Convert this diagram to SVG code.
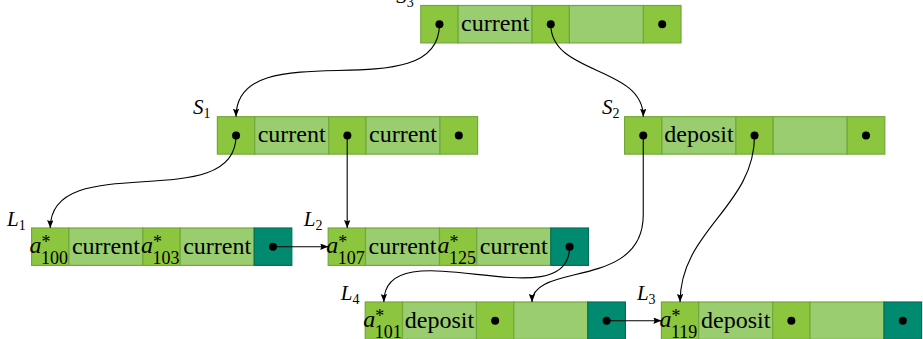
<svg xmlns="http://www.w3.org/2000/svg" width="923" height="339" viewBox="0 0 923 339">
<style>
  .dk{fill:#8cc63f;stroke:#72a83a;stroke-width:1.2}
  .lt{fill:#99cd6f;stroke:#72a83a;stroke-width:1.2}
  .tl{fill:#008a70;stroke:#00705b;stroke-width:1.2}
  .dot{fill:#000}
  text{font-family:'Liberation Serif','DejaVu Serif',serif;fill:#000}
  .t{font-size:24px;text-anchor:middle}
  .a{font-size:24px;font-style:italic}
  .sm{font-size:18px}
  .lb{font-size:21px;font-style:italic}
  .lbs{font-size:14px;font-style:normal}
  .c{fill:none;stroke:#000;stroke-width:1.1}
</style>
<defs>
  <marker id="arr" viewBox="0 0 10 8" refX="10" refY="4" markerWidth="8" markerHeight="6.4" markerUnits="userSpaceOnUse" orient="auto">
    <path d="M0,0 L10,4 L0,8 L1.5,4 z" fill="#000"/>
  </marker>
</defs>
<rect width="923" height="339" fill="#fff"/>

<g id="S3" transform="translate(420.8,5.5)">
  <rect class="dk" x="0" y="0" width="37.3" height="37.4"/>
  <rect class="lt" x="37.3" y="0" width="74" height="37.4"/>
  <rect class="dk" x="111.3" y="0" width="37.3" height="37.4"/>
  <rect class="lt" x="148.6" y="0" width="74" height="37.4"/>
  <rect class="dk" x="222.6" y="0" width="37.6" height="37.4"/>
  <circle class="dot" cx="18.65" cy="18.7" r="4"/>
  <text class="t" x="74.3" y="25.5">current</text>
  <circle class="dot" cx="129.95" cy="18.7" r="4"/>
  <circle class="dot" cx="241.4" cy="18.7" r="4"/>
  <text class="lb" x="-24.5" y="-2.5">S<tspan class="lbs" dy="4">3</tspan></text>
</g>

<g id="S1" transform="translate(217.4,116.7)">
  <rect class="dk" x="0" y="0" width="37.3" height="37.4"/>
  <rect class="lt" x="37.3" y="0" width="74" height="37.4"/>
  <rect class="dk" x="111.3" y="0" width="37.3" height="37.4"/>
  <rect class="lt" x="148.6" y="0" width="74" height="37.4"/>
  <rect class="dk" x="222.6" y="0" width="37.6" height="37.4"/>
  <circle class="dot" cx="18.65" cy="18.7" r="4"/>
  <text class="t" x="74.3" y="25.5">current</text>
  <circle class="dot" cx="129.95" cy="18.7" r="4"/>
  <text class="t" x="185.6" y="25.5">current</text>
  <circle class="dot" cx="241.4" cy="18.7" r="4"/>
  <text class="lb" x="-24.5" y="-2.5">S<tspan class="lbs" dy="4">1</tspan></text>
</g>

<g id="S2" transform="translate(624.6,116.7)">
  <rect class="dk" x="0" y="0" width="37.3" height="37.4"/>
  <rect class="lt" x="37.3" y="0" width="74" height="37.4"/>
  <rect class="dk" x="111.3" y="0" width="37.3" height="37.4"/>
  <rect class="lt" x="148.6" y="0" width="74" height="37.4"/>
  <rect class="dk" x="222.6" y="0" width="37.6" height="37.4"/>
  <circle class="dot" cx="18.65" cy="18.7" r="4"/>
  <text class="t" x="74.3" y="25.5">deposit</text>
  <circle class="dot" cx="129.95" cy="18.7" r="4"/>
  <circle class="dot" cx="241.4" cy="18.7" r="4"/>
  <text class="lb" x="-22.5" y="-2.5">S<tspan class="lbs" dy="4">2</tspan></text>
</g>

<g id="L1" transform="translate(31.6,228)">
  <rect class="dk" x="0" y="0" width="37.3" height="37.4"/>
  <rect class="lt" x="37.3" y="0" width="74" height="37.4"/>
  <rect class="dk" x="111.3" y="0" width="37.3" height="37.4"/>
  <rect class="lt" x="148.6" y="0" width="74" height="37.4"/>
  <rect class="tl" x="222.6" y="0" width="37.6" height="37.4"/>
  <text class="a" x="-2" y="24.5">a</text><text class="sm" x="10" y="19.5">*</text><text class="sm" x="9.5" y="35.5">100</text>
  <text class="t" x="74.3" y="25.5">current</text>
  <text class="a" x="109.3" y="24.5">a</text><text class="sm" x="121.3" y="19.5">*</text><text class="sm" x="120.8" y="35.5">103</text>
  <text class="t" x="185.6" y="25.5">current</text>
  <circle class="dot" cx="241.4" cy="18.7" r="4"/>
  <text class="lb" x="-24.5" y="-2.5">L<tspan class="lbs" dy="4">1</tspan></text>
</g>

<g id="L2" transform="translate(328.2,228)">
  <rect class="dk" x="0" y="0" width="37.3" height="37.4"/>
  <rect class="lt" x="37.3" y="0" width="74" height="37.4"/>
  <rect class="dk" x="111.3" y="0" width="37.3" height="37.4"/>
  <rect class="lt" x="148.6" y="0" width="74" height="37.4"/>
  <rect class="tl" x="222.6" y="0" width="37.6" height="37.4"/>
  <text class="a" x="-2" y="24.5">a</text><text class="sm" x="10" y="19.5">*</text><text class="sm" x="9.5" y="35.5">107</text>
  <text class="t" x="74.3" y="25.5">current</text>
  <text class="a" x="109.3" y="24.5">a</text><text class="sm" x="121.3" y="19.5">*</text><text class="sm" x="120.8" y="35.5">125</text>
  <text class="t" x="185.6" y="25.5">current</text>
  <circle class="dot" cx="241.4" cy="18.7" r="4"/>
  <text class="lb" x="-24.5" y="-2.5">L<tspan class="lbs" dy="4">2</tspan></text>
</g>

<g id="L4" transform="translate(365.2,302)">
  <rect class="dk" x="0" y="0" width="37.3" height="37.4"/>
  <rect class="lt" x="37.3" y="0" width="74" height="37.4"/>
  <rect class="dk" x="111.3" y="0" width="37.3" height="37.4"/>
  <rect class="lt" x="148.6" y="0" width="74" height="37.4"/>
  <rect class="tl" x="222.6" y="0" width="37.6" height="37.4"/>
  <text class="a" x="-2" y="24.5">a</text><text class="sm" x="10" y="19.5">*</text><text class="sm" x="9.5" y="35.5">101</text>
  <text class="t" x="74.3" y="25.5">deposit</text>
  <circle class="dot" cx="129.95" cy="18.7" r="4"/>
  <circle class="dot" cx="241.4" cy="18.7" r="4"/>
  <text class="lb" x="-24.5" y="-2.5">L<tspan class="lbs" dy="4">4</tspan></text>
</g>

<g id="L3" transform="translate(661.4,302)">
  <rect class="dk" x="0" y="0" width="37.3" height="37.4"/>
  <rect class="lt" x="37.3" y="0" width="74" height="37.4"/>
  <rect class="dk" x="111.3" y="0" width="37.3" height="37.4"/>
  <rect class="lt" x="148.6" y="0" width="74" height="37.4"/>
  <rect class="tl" x="222.6" y="0" width="37.6" height="37.4"/>
  <text class="a" x="-2" y="24.5">a</text><text class="sm" x="10" y="19.5">*</text><text class="sm" x="9.5" y="35.5">119</text>
  <text class="t" x="74.3" y="25.5">deposit</text>
  <circle class="dot" cx="129.95" cy="18.7" r="4"/>
  <circle class="dot" cx="241.4" cy="18.7" r="4"/>
  <text class="lb" x="-24.5" y="-2.5">L<tspan class="lbs" dy="4">3</tspan></text>
</g>

<g id="connectors">
  <path class="c" marker-end="url(#arr)" d="M439.45,24.2 C439.45,111.6 236.05,29.5 236.05,116.7"/>
  <path class="c" marker-end="url(#arr)" d="M550.75,24.2 C550.75,75.3 643.25,65.6 643.25,116.7"/>
  <path class="c" marker-end="url(#arr)" d="M236.05,135.4 C236.05,216.6 50.25,146.8 50.25,228"/>
  <path class="c" marker-end="url(#arr)" d="M347.2,135.4 L347.2,228"/>
  <path class="c" marker-end="url(#arr)" d="M643.25,135.4 L643.25,215 C643.25,290 532,262 532,302"/>
  <path class="c" marker-end="url(#arr)" d="M754.55,135.4 C754.55,206.7 680.05,230.3 680.05,302"/>
  <path class="c" marker-end="url(#arr)" d="M273,246.7 L328.2,246.7"/>
  <path class="c" marker-end="url(#arr)" d="M569.6,246.7 C569.6,322.5 383.85,226.2 383.85,302"/>
  <path class="c" marker-end="url(#arr)" d="M606.6,320.7 L661.4,320.7"/>
</g>
</svg>
